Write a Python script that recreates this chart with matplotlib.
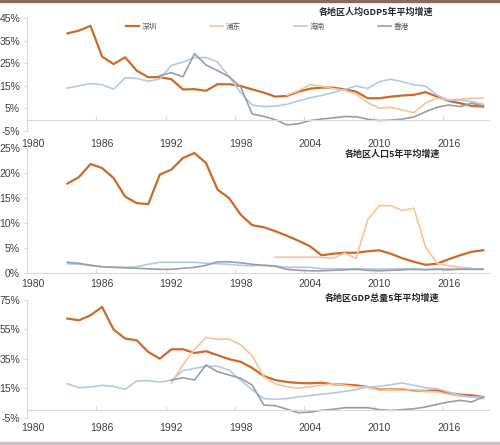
import numpy as np
import matplotlib
matplotlib.use("Agg")
import matplotlib.pyplot as plt
from matplotlib.patches import Rectangle

plt.rcParams['font.family'] = ['Liberation Sans', 'Noto Sans CJK SC', 'DejaVu Sans']

years = list(range(1983, 2020))
nan = np.nan

names = ['深圳', '浦东', '海南', '香港']
colors = ['#cc6a2a', '#f6c49c', '#b7c9e1', '#999ea6']
widths = [1.6, 1.2, 1.2, 1.2]

# 人均GDP 5年平均增速 (%)
gdp_pc_sz = [38.2, 39.4, 41.5, 27.9, 24.6, 27.6, 21.7, 18.8, 18.8, 17.9, 13.4, 13.5, 12.8,
             15.7, 15.7, 14.9, 13.4, 12.0, 10.2, 10.5, 12.4, 13.7, 14.2, 14.2, 13.4, 12.4,
             9.5, 9.5, 10.2, 10.7, 11.0, 12.2, 10.2, 8.3, 7.3, 6.1, 5.8]
gdp_pc_pd = [nan] * 19 + [10.8, 12.8, 15.5, 14.8, 13.8, 13.0, 11.3, 7.5, 5.1, 5.5, 4.3,
                          3.1, 7.4, 9.5, 8.7, 9.1, 9.5, 9.5]
gdp_pc_hn = [14.0, 15.0, 16.0, 15.5, 13.5, 18.5, 18.3, 17.0, 18.0, 24.0, 25.5, 27.5, 27.5,
             25.5, 19.0, 12.0, 6.5, 5.8, 6.0, 6.8, 8.3, 9.7, 10.7, 12.0, 13.4, 14.9, 13.8,
             16.8, 17.9, 16.8, 15.4, 14.9, 10.9, 8.7, 8.7, 8.0, 6.9]
gdp_pc_hk = [nan] * 8 + [19.5, 20.8, 19.0, 29.2, 24.2, 21.7, 19.0, 14.5, 2.5, 1.5, 0.0,
                         -2.3, -1.8, -0.4, 0.3, 0.8, 1.4, 1.3, 0.2, -0.4, -0.2, 0.3, 1.2,
                         3.5, 5.5, 6.5, 5.8, 7.3, 6.1]

# 人口 5年平均增速 (%)
pop_sz = [17.9, 19.2, 21.8, 21.0, 19.0, 15.3, 14.0, 13.8, 19.7, 20.7, 23.0, 24.0, 22.0,
          16.7, 15.0, 11.7, 9.6, 9.2, 8.4, 7.5, 6.5, 5.4, 3.6, 3.9, 4.1, 4.1, 4.4, 4.6,
          3.9, 3.0, 2.3, 1.7, 1.9, 2.8, 3.6, 4.3, 4.6]
pop_pd = [nan] * 18 + [3.2, 3.2, 3.2, 3.2, 3.2, 3.0, 4.0, 3.0, 10.7, 13.5, 13.5, 12.5,
                       13.0, 5.3, 2.0, 1.5, 1.2, 1.0, nan]
pop_hn = [1.9, 1.8, 1.6, 1.3, 1.2, 1.2, 1.3, 1.8, 2.2, 2.2, 2.2, 2.2, 2.0, 1.9, 1.8, 1.6,
          1.5, 1.6, 1.5, 1.2, 1.2, 1.2, 0.9, 0.9, 0.9, 0.9, 0.9, 0.8, 0.9, 0.9, 0.9, 0.8,
          0.9, 0.9, 0.9, 0.9, 0.9]
pop_hk = [2.2, 2.0, 1.6, 1.3, 1.2, 1.1, 1.0, 0.9, 0.8, 0.8, 1.0, 1.2, 1.6, 2.3, 2.3, 2.1,
          1.8, 1.6, 1.4, 0.8, 0.6, 0.5, 0.5, 0.6, 0.7, 0.8, 0.6, 0.5, 0.6, 0.7, 0.8, 0.7,
          0.8, 0.7, 0.8, 0.8, 0.8]

# GDP总量 5年平均增速 (%)
gdp_sz = [62.4, 61.2, 64.6, 70.3, 54.9, 48.8, 47.6, 39.7, 35.1, 41.5, 41.5, 39.0, 40.2,
          37.5, 34.8, 33.0, 28.8, 23.3, 20.6, 19.3, 18.6, 18.4, 18.8, 17.7, 17.5, 17.0,
          15.9, 14.1, 14.3, 14.1, 13.6, 13.2, 13.6, 11.8, 10.7, 10.2, 9.1]
gdp_pd = [nan] * 9 + [18.3, 31.0, 41.5, 49.5, 48.3, 48.5, 44.5, 37.0, 22.9, 18.0, 16.0,
                      15.0, 16.0, 17.2, 18.0, 17.0, 16.0, 15.9, 13.6, 14.1, 13.6, 14.1,
                      12.9, 12.5, 10.9, 9.5, 9.1, 7.9]
gdp_hn = [18.1, 15.4, 15.9, 17.0, 16.3, 14.3, 20.0, 20.2, 19.2, 20.4, 27.0, 28.5, 30.0,
          30.0, 27.3, 20.5, 14.0, 8.0, 7.5, 8.0, 9.2, 10.0, 11.0, 11.8, 12.9, 14.1, 15.9,
          16.3, 17.5, 18.6, 17.0, 15.4, 14.7, 12.5, 10.2, 9.1, 9.1]
gdp_hk = [nan] * 9 + [20.6, 22.2, 20.6, 30.8, 26.3, 24.0, 21.8, 17.2, 3.6, 3.2, 0.8, -1.6,
                      -1.2, 0.1, 0.7, 1.8, 1.8, 1.8, 0.5, 0.0, 0.5, 1.1, 2.3, 4.1, 5.7,
                      6.8, 5.7, 9.1]

panels = [
    dict(title='各地区人均GDP5年平均增速', series=[gdp_pc_sz, gdp_pc_pd, gdp_pc_hn, gdp_pc_hk],
         yticks=[-5, 5, 15, 25, 35, 45], rect=[0.054, 0.7056, 0.924, 0.254],
         title_pos=(0.755, 1.053), pad=5.5),
    dict(title='各地区人口5年平均增速', series=[pop_sz, pop_pd, pop_hn, pop_hk],
         yticks=[0, 5, 10, 15, 20, 25], rect=[0.054, 0.3858, 0.924, 0.2816],
         title_pos=(0.792, 0.952), pad=4),
    dict(title='各地区GDP总量5年平均增速', series=[gdp_sz, gdp_pd, gdp_hn, gdp_hk],
         yticks=[-5, 15, 35, 55, 75], rect=[0.054, 0.0613, 0.924, 0.2645],
         title_pos=(0.768, 1.017), pad=4),
]

xlabels = [1980, 1986, 1992, 1998, 2004, 2010, 2016]
grid_col = '#d9d9d9'
txt_col = '#404040'

fig = plt.figure(figsize=(5.0, 4.45), dpi=100)

for i, p in enumerate(panels):
    ax = fig.add_axes(p['rect'])
    for vals, name, c, w in zip(p['series'], names, colors, widths):
        ax.plot(years, vals, color=c, lw=w, label=name, solid_joinstyle='round')
    ax.set_xlim(1979.5, 2019.5)
    ax.set_ylim(p['yticks'][0], p['yticks'][-1])
    ax.set_yticks(p['yticks'])
    ax.set_yticklabels([f'{v}%' for v in p['yticks']])
    ax.tick_params(axis='y', labelsize=7.5, labelcolor=txt_col, color=grid_col,
                   length=2, width=0.8, pad=3)
    for s in ['top', 'right']:
        ax.spines[s].set_visible(False)
    ax.spines['left'].set_color(grid_col)
    ax.spines['left'].set_linewidth(0.8)
    ax.spines['bottom'].set_position(('data', 0))
    ax.spines['bottom'].set_color(grid_col)
    ax.spines['bottom'].set_linewidth(0.8)
    ax.set_xticks([y - 0.5 for y in xlabels[1:]])
    ax.tick_params(axis='x', labelbottom=False, direction='in', length=3,
                   color=grid_col, width=0.8)
    sec = ax.secondary_xaxis('bottom')
    sec.set_xticks(xlabels)
    sec.set_xticklabels([str(v) for v in xlabels])
    sec.tick_params(length=0, labelsize=7.5, labelcolor=txt_col, pad=p['pad'])
    sec.spines['bottom'].set_visible(False)
    ax.text(p['title_pos'][0], p['title_pos'][1], p['title'], transform=ax.transAxes,
            ha='center', va='center', fontsize=6.5, fontweight='bold', color='#262626',
            family=['Noto Sans CJK SC', 'DejaVu Sans'])
    if i == 0:
        leg = ax.legend(ncol=4, loc='center', bbox_to_anchor=(0.52, 0.92), frameon=False,
                        prop={'family': 'Noto Sans CJK SC', 'size': 5.5},
                        handlelength=1.7, handletextpad=0.3, columnspacing=7.0)
        for t in leg.get_texts():
            t.set_color('#595959')

# page edges
fig.patches.append(Rectangle((0, 1 - 2 / 445), 1, 2 / 445, transform=fig.transFigure,
                             color='#8a6a60', zorder=0))
fig.patches.append(Rectangle((0, 0), 1, 3 / 445, transform=fig.transFigure,
                             color='#cbbfc3', zorder=0))

fig.savefig('out.png', dpi=100)
